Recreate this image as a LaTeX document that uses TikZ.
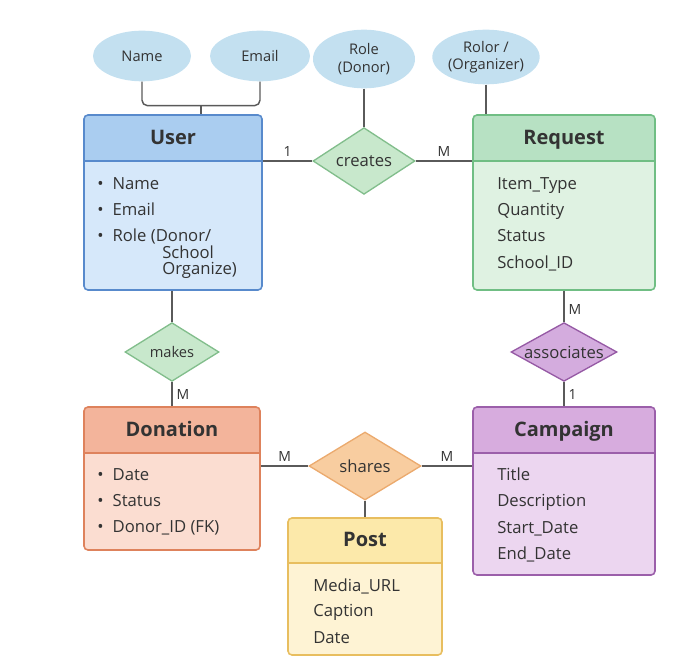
\documentclass[tikz,border=0pt]{standalone}
\usepackage{fontspec}
\setmainfont{Open Sans}
\usetikzlibrary{shapes.geometric,positioning}

\definecolor{ink}{HTML}{333333}
\definecolor{linkgray}{HTML}{5A5A5A}
\definecolor{attrfill}{RGB}{195,224,240}
\definecolor{userline}{RGB}{88,138,204}
\definecolor{userhead}{RGB}{170,205,240}
\definecolor{userbody}{RGB}{214,232,250}
\definecolor{requestline}{RGB}{112,190,132}
\definecolor{requesthead}{RGB}{183,225,195}
\definecolor{requestbody}{RGB}{223,242,226}
\definecolor{donationline}{RGB}{222,130,92}
\definecolor{donationhead}{RGB}{243,180,155}
\definecolor{donationbody}{RGB}{251,221,209}
\definecolor{campaignline}{RGB}{155,95,170}
\definecolor{campaignhead}{RGB}{215,172,222}
\definecolor{campaignbody}{RGB}{236,214,240}
\definecolor{postline}{RGB}{232,190,95}
\definecolor{posthead}{RGB}{252,233,170}
\definecolor{postbody}{RGB}{254,243,212}
\definecolor{relgreen}{RGB}{200,232,204}
\definecolor{relgreenline}{RGB}{130,190,140}
\definecolor{relpurple}{RGB}{212,172,222}
\definecolor{relpurpleline}{RGB}{150,90,165}
\definecolor{relorange}{RGB}{248,205,160}
\definecolor{relorangeline}{RGB}{235,170,110}

\tikzset{
  attrib/.style={ellipse, fill=attrfill, inner sep=0pt, align=center, text=ink,
    font=\fontsize{11}{13}\selectfont},
  entity/.style n args={4}{rectangle, rounded corners=3pt, line width=1.2pt,
    draw=#1line, fill=#1body, minimum width=#2, minimum height=#3, inner sep=0pt,
    path picture={
      \fill[#1head, sharp corners] (path picture bounding box.north west)
        rectangle ([yshift=-#4]path picture bounding box.north east);
      \draw[#1line, sharp corners, line width=1pt] ([yshift=-#4]path picture bounding box.north west)
        -- ([yshift=-#4]path picture bounding box.north east);
    }},
  title/.style={text=ink, font=\fontsize{15}{18}\selectfont\bfseries, inner sep=0pt,
    text height=11pt, text depth=3pt},
  field/.style={text=ink, font=\fontsize{12.5}{15}\selectfont, inner sep=0pt, anchor=base west},
  rel/.style={diamond, line width=1pt, inner sep=0pt},
  rellabel/.style={text=ink, font=\fontsize{12.5}{15}\selectfont, inner sep=0pt},
  link/.style={draw=linkgray, line width=1.1pt},
  card/.style={text=ink, font=\fontsize{10.5}{12}\selectfont, inner sep=3pt},
}

\begin{document}
\begin{tikzpicture}[x=0.75pt,y=0.75pt,yscale=-1,xscale=1]
\useasboundingbox (0,0) rectangle (678,659);

% attribute ellipses
\node[attrib, minimum width=73.5pt, minimum height=38pt] (name) at (142,56) {Name};
\node[attrib, minimum width=75pt, minimum height=38pt] (email) at (260,56) {Email};
\node[attrib, minimum width=76.5pt, minimum height=44pt] (role) at (364,59) {Role\\(Donor)};
\node[attrib, minimum width=76.5pt, minimum height=41pt] (rolor) at (486,57) {Rolor /\\(Organizer)};

% entities
\node[entity={user}{133.5pt}{131.25pt}{34.5pt}] (user) at (173,202.5) {};
\node[entity={request}{136.5pt}{131.25pt}{34.5pt}] (request) at (564,202.5) {};
\node[entity={donation}{132pt}{107.25pt}{34.5pt}] (donation) at (172,478.5) {};
\node[entity={campaign}{136.5pt}{126pt}{34.5pt}] (campaign) at (564,491) {};
\node[entity={post}{115.5pt}{102.75pt}{33.75pt}] (post) at (365,586.5) {};

\node[title] (user-t) at ([yshift=19pt]user.north) {User};
\node[title] (request-t) at ([yshift=19pt]request.north) {Request};
\node[title] (donation-t) at ([yshift=18.5pt]donation.north) {Donation};
\node[title] (campaign-t) at ([yshift=18.5pt]campaign.north) {Campaign};
\node[title] (post-t) at ([yshift=18pt]post.north) {Post};

% fields
\foreach \y/\t in {190/Name, 216/Email, 242/{Role (Donor/}}
  \node[field] (user-f\y) at (97,\y) {\makebox[11.5pt][l]{\textbullet}\t};
\node[field] (user-f258) at (162,258) {School};
\node[field] (user-f275) at (162,275) {Organize)};
\foreach \y/\t in {190/Item\_Type, 216/Quantity, 242/Status, 268/School\_ID}
  \node[field] (request-f\y) at (497,\y) {\t};
\foreach \y/\t in {480/Date, 506/Status, 532/Donor\_ID (FK)}
  \node[field] (donation-f\y) at (97,\y) {\makebox[11.5pt][l]{\textbullet}\t};
\foreach \y/\t in {480/Title, 506/Description, 533/Start\_Date, 559/End\_Date}
  \node[field] (campaign-f\y) at (497,\y) {\t};
\foreach \y/\t in {591/Media\_URL, 616/Caption, 643/Date}
  \node[field] (post-f\y) at (313,\y) {\t};

% relationships
\node[rel, fill=relgreen, draw=relgreenline, minimum width=76.5pt, minimum height=50pt,
  label={[rellabel, name=creates-t]center:creates}] (creates) at (364,161) {};
\node[rel, fill=relgreen, draw=relgreenline, minimum width=70.5pt, minimum height=44pt,
  label={[rellabel, font=\fontsize{11}{13}\selectfont, name=makes-t]center:makes}] (makes) at (172,352) {};
\node[rel, fill=relpurple, draw=relpurpleline, minimum width=79.5pt, minimum height=44pt,
  label={[rellabel, name=associates-t]center:associates}] (associates) at (564,352) {};
\node[rel, fill=relorange, draw=relorangeline, minimum width=84pt, minimum height=51pt,
  label={[rellabel, name=shares-t]center:shares}] (shares) at (365,466) {};

% connectors
\draw[link, rounded corners=4pt] (name.south) -- ++(0,24) -| coordinate[pos=0.25] (nejoin) (email.south);
\draw[link] (nejoin) -- (nejoin |- user.north);
\draw[link] (role.south) -- (creates.north);
\draw[link] (rolor.south) -- (rolor.south |- request.north);
\draw[link] (user.east |- creates) -- node[card, above] (c-uc) {1} (creates.west);
\draw[link] (creates.east) -- node[card, above] (c-cr) {M} (request.west |- creates);
\draw[link] (makes.north |- user.south) -- (makes.north);
\draw[link] (makes.south) -- node[card, right] (c-md) {M} (donation.north);
\draw[link] (request.south) -- node[card, right, pos=0.6] (c-ra) {M} (associates.north);
\draw[link] (associates.south) -- node[card, right] (c-ac) {1} (campaign.north);
\draw[link] (donation.east |- shares) -- node[card, above] (c-ds) {M} (shares.west);
\draw[link] (shares.east) -- node[card, above] (c-sc) {M} (campaign.west |- shares);
\draw[link] (shares.south) -- (post.north);
\end{tikzpicture}
\end{document}
